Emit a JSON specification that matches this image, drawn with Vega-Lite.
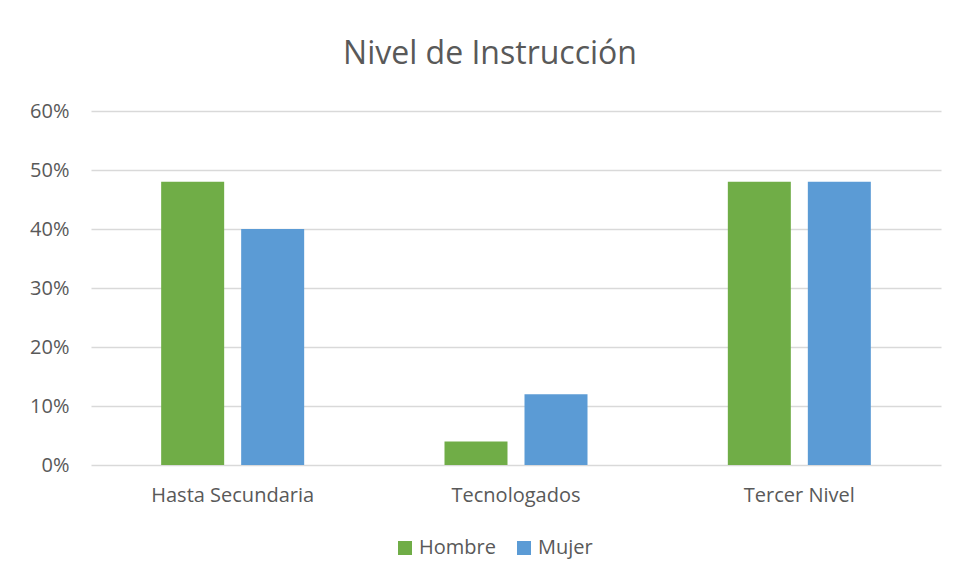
{
  "$schema": "https://vega.github.io/schema/vega-lite/v6.json",
  "autosize": {"type": "none"},
  "width": 850,
  "height": 354,
  "padding": {"left": 91, "top": 111, "right": 16, "bottom": 115},
  "background": "white",
  "title": {
    "text": "Nivel de Instrucción",
    "font": "Open Sans",
    "fontSize": 32,
    "fontWeight": "normal",
    "color": "#595959",
    "anchor": "middle",
    "dx": -26,
    "offset": 30
  },
  "data": {
    "values": [
      {"categoria": "Hasta Secundaria", "sexo": "Hombre", "valor": 0.48},
      {"categoria": "Hasta Secundaria", "sexo": "Mujer", "valor": 0.40},
      {"categoria": "Tecnologados", "sexo": "Hombre", "valor": 0.04},
      {"categoria": "Tecnologados", "sexo": "Mujer", "valor": 0.12},
      {"categoria": "Tercer Nivel", "sexo": "Hombre", "valor": 0.48},
      {"categoria": "Tercer Nivel", "sexo": "Mujer", "valor": 0.48}
    ]
  },
  "mark": {"type": "bar"},
  "encoding": {
    "x": {
      "field": "categoria",
      "type": "nominal",
      "sort": ["Hasta Secundaria", "Tecnologados", "Tercer Nivel"],
      "scale": {"paddingInner": 0, "paddingOuter": 0},
      "axis": {
        "title": null,
        "labelAngle": 0,
        "labelFont": "Open Sans",
        "labelFontSize": 20,
        "labelColor": "#595959",
        "labelPadding": 20,
        "ticks": false,
        "domain": false
      }
    },
    "xOffset": {
      "field": "sexo",
      "type": "nominal",
      "sort": ["Hombre", "Mujer"],
      "scale": {"paddingInner": 0.2125, "paddingOuter": 0.877}
    },
    "y": {
      "field": "valor",
      "type": "quantitative",
      "scale": {"domain": [0, 0.6]},
      "axis": {
        "title": null,
        "values": [0, 0.1, 0.2, 0.3, 0.4, 0.5, 0.6],
        "format": ".0%",
        "labelFont": "Open Sans",
        "labelFontSize": 20,
        "labelColor": "#595959",
        "labelPadding": 22,
        "ticks": false,
        "domain": false,
        "grid": true,
        "gridColor": "#D9D9D9",
        "gridWidth": 1.5
      }
    },
    "color": {
      "field": "sexo",
      "type": "nominal",
      "sort": ["Hombre", "Mujer"],
      "scale": {"domain": ["Hombre", "Mujer"], "range": ["#70AD47", "#5B9BD5"]},
      "legend": {
        "title": null,
        "orient": "none",
        "direction": "horizontal",
        "legendX": 304,
        "legendY": 427,
        "symbolType": "square",
        "symbolSize": 196,
        "symbolStrokeWidth": 0,
        "symbolOpacity": 1,
        "labelFont": "Open Sans",
        "labelFontSize": 20,
        "labelColor": "#595959",
        "columnPadding": 18,
        "labelOffset": 4
      }
    }
  },
  "config": {
    "view": {"stroke": null}
  }
}
